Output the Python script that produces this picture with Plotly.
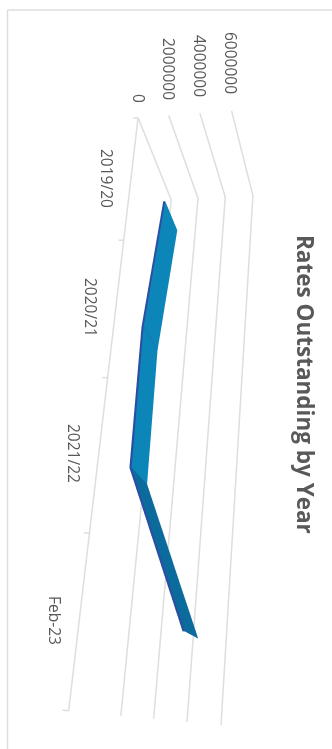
import plotly.graph_objects as go

W, H = 332, 749

# Data
categories = ["2019/20", "2020/21", "2021/22", "Feb-23"]
rates_outstanding = [1500000, 930000, 1090000, 4930000]
value_ticks = [0, 2000000, 4000000, 6000000]
title_text = "Rates Outstanding by Year"

GRID = "#dedede"
TEXT = "#595959"
SEG_LIGHT = "#0c85b9"
SEG_DARK = "#0a6b9c"
SIDE = "#2b4ea3"

# Ribbon geometry in the chart's depth direction
D_FRONT, D_BACK = 0.30, 0.68
THICK = 130000

fig = go.Figure()

n = len(categories)
cat_pos = [i + 0.5 for i in range(n)]


def line(xs, ys, zs, color=GRID, width=3):
    fig.add_trace(go.Scatter3d(x=xs, y=ys, z=zs, mode="lines",
                               line=dict(color=color, width=width), hoverinfo="skip"))


# floor and walls
line([0, n], [0, 0], [0, 0])
for v in value_ticks:
    line([n, 0, 0], [1, 1, 0], [v, v, v])
for i in range(n + 1):
    line([i, i], [0, 0], [0, -320000])

# ribbon: vertices are front, back and lower-front for each category
vx, vy, vz = [], [], []
for c, v in zip(cat_pos, rates_outstanding):
    vx += [c, c, c]
    vy += [D_FRONT, D_BACK, D_FRONT]
    vz += [v, v, v - THICK]
fi, fj, fk, fc = [], [], [], []
for s in range(n - 1):
    a = 3 * s
    b = 3 * (s + 1)
    col = SEG_DARK if s == n - 2 else SEG_LIGHT
    fi += [a, a]
    fj += [a + 1, b + 1]
    fk += [b + 1, b]
    fc += [col, col]
    fi += [a, a]
    fj += [a + 2, b + 2]
    fk += [b + 2, b]
    fc += [SIDE, SIDE]
fig.add_trace(go.Mesh3d(x=vx, y=vy, z=vz, i=fi, j=fj, k=fk, facecolor=fc, flatshading=True,
                        lighting=dict(ambient=1, diffuse=0, specular=0, fresnel=0, roughness=1),
                        hoverinfo="skip", showscale=False))
# fold line at the second category
line([cat_pos[1], cat_pos[1]], [D_FRONT, D_BACK], [rates_outstanding[1] + 5000] * 2, color="#1d6aa8", width=1.5)


def pann(px, py, text, size, bold=False):
    fig.add_annotation(xref="paper", yref="paper", x=px / W, y=1 - py / H, text=f"<b>{text}</b>" if bold else text,
                       showarrow=False, textangle=90, xanchor="center", yanchor="middle",
                       font=dict(family="Open Sans, Noto Sans, sans-serif", size=size, color=TEXT))


# value labels
for v, (px, py) in zip(value_ticks, [(139, 98), (169, 69), (200, 66), (231, 63)]):
    pann(px, py, str(v), 15.5)
# category labels
for c, (px, py) in zip(categories, [(107, 178), (91, 307), (74, 453), (55, 620)]):
    pann(px, py, c, 15.5)
pann(306, 384, title_text, 22.5, bold=True)

fig.update_layout(
    width=W, height=H, margin=dict(l=0, r=0, t=0, b=0), showlegend=False,
    paper_bgcolor="white",
    scene=dict(
        domain=dict(x=[0, 1], y=[0, 1]), aspectmode="manual", bgcolor="white",
        aspectratio=dict(x=1.5, y=0.8136, z=0.3394),
        xaxis=dict(range=[-1, 5], visible=False),
        yaxis=dict(range=[-1, 2], visible=False),
        zaxis=dict(range=[-3000000, 9000000], visible=False),
        camera=dict(eye=dict(x=0.5018, y=-1.4189, z=0.3514),
                    center=dict(x=-0.0483, y=-0.0261, z=-0.0185),
                    up=dict(x=-1.0365, y=-0.0543, z=-0.0793)),
    ),
    shapes=[
        dict(type="line", xref="paper", yref="paper", x0=7.5 / W, x1=7.5 / W, y0=0, y1=1 - 10 / H,
             line=dict(color=GRID, width=1.5)),
        dict(type="line", xref="paper", yref="paper", x0=7.5 / W, x1=1, y0=1 - 10 / H, y1=1 - 10 / H,
             line=dict(color=GRID, width=1.5)),
    ],
)
fig.write_html("out.html", config=dict(displayModeBar=False),
               post_script="document.body.style.margin='0';document.body.style.overflow='hidden';")
